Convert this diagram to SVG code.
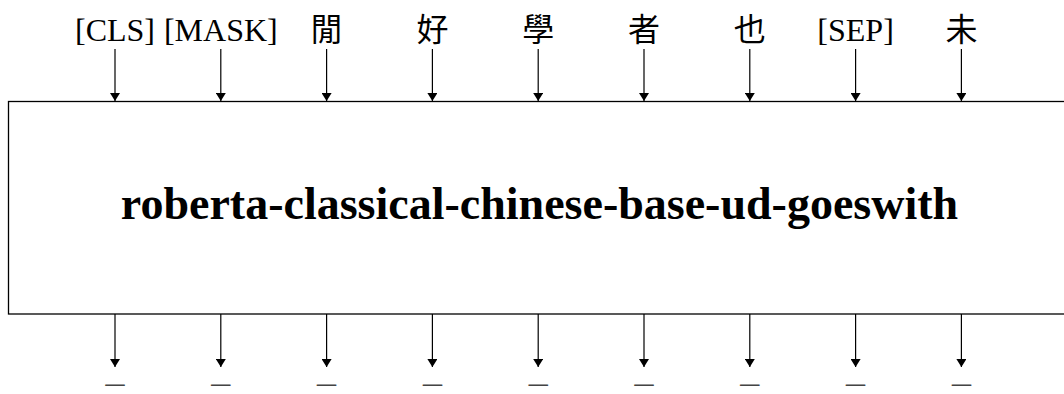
<svg xmlns="http://www.w3.org/2000/svg" width="1064" height="394" viewBox="0 0 1064 394">
  <style>
    .tok { font-family: "Liberation Serif", "Noto Sans CJK TC", serif; font-size: 32px; fill: #000; text-anchor: middle; }
    .out { font-family: "Liberation Serif", serif; font-size: 32px; fill: #444; text-anchor: middle; }
    .title { font-family: "Liberation Serif", serif; font-size: 46px; font-weight: bold; fill: #000; text-anchor: middle; }
    .box { fill: #fff; stroke: #000; stroke-width: 1.3; }
    .arrow { stroke: #000; stroke-width: 1.2; fill: none; marker-end: url(#head); }
  </style>
  <defs>
    <marker id="head" viewBox="0 0 8 10" refX="8" refY="5" markerWidth="8" markerHeight="10" markerUnits="userSpaceOnUse" orient="auto">
      <path d="M0,0 L8,5 L0,10 Z" fill="#000"/>
    </marker>
  </defs>
  <rect width="1064" height="394" fill="#fff"/>

  <!-- model block -->
  <g id="model">
    <rect class="box" x="8.5" y="101.5" width="1070" height="212.5"/>
    <text class="title" x="539.5" y="219">roberta-classical-chinese-base-ud-goeswith</text>
  </g>

  <!-- input tokens -->
  <g id="in-0"><text class="tok" x="115" y="41">[CLS]</text></g>
  <g id="in-1"><text class="tok" x="220.8" y="41">[MASK]</text></g>
  <g id="in-2"><text class="tok" x="326.6" y="41">閒</text></g>
  <g id="in-3"><text class="tok" x="432.4" y="41">好</text></g>
  <g id="in-4"><text class="tok" x="538.2" y="41">學</text></g>
  <g id="in-5"><text class="tok" x="644" y="41">者</text></g>
  <g id="in-6"><text class="tok" x="749.8" y="41">也</text></g>
  <g id="in-7"><text class="tok" x="855.6" y="41">[SEP]</text></g>
  <g id="in-8"><text class="tok" x="961.4" y="41">未</text></g>

  <!-- output labels -->
  <g id="out-0"><text class="out" x="115" y="382" textLength="19" lengthAdjust="spacingAndGlyphs">_</text></g>
  <g id="out-1"><text class="out" x="220.8" y="382" textLength="19" lengthAdjust="spacingAndGlyphs">_</text></g>
  <g id="out-2"><text class="out" x="326.6" y="382" textLength="19" lengthAdjust="spacingAndGlyphs">_</text></g>
  <g id="out-3"><text class="out" x="432.4" y="382" textLength="19" lengthAdjust="spacingAndGlyphs">_</text></g>
  <g id="out-4"><text class="out" x="538.2" y="382" textLength="19" lengthAdjust="spacingAndGlyphs">_</text></g>
  <g id="out-5"><text class="out" x="644" y="382" textLength="19" lengthAdjust="spacingAndGlyphs">_</text></g>
  <g id="out-6"><text class="out" x="749.8" y="382" textLength="19" lengthAdjust="spacingAndGlyphs">_</text></g>
  <g id="out-7"><text class="out" x="855.6" y="382" textLength="19" lengthAdjust="spacingAndGlyphs">_</text></g>
  <g id="out-8"><text class="out" x="961.4" y="382" textLength="19" lengthAdjust="spacingAndGlyphs">_</text></g>

  <!-- connectors: tokens into the model, model out to labels -->
  <g id="connectors">
    <line class="arrow" x1="115" y1="49" x2="115" y2="101"/>
    <line class="arrow" x1="220.8" y1="49" x2="220.8" y2="101"/>
    <line class="arrow" x1="326.6" y1="49" x2="326.6" y2="101"/>
    <line class="arrow" x1="432.4" y1="49" x2="432.4" y2="101"/>
    <line class="arrow" x1="538.2" y1="49" x2="538.2" y2="101"/>
    <line class="arrow" x1="644" y1="49" x2="644" y2="101"/>
    <line class="arrow" x1="749.8" y1="49" x2="749.8" y2="101"/>
    <line class="arrow" x1="855.6" y1="49" x2="855.6" y2="101"/>
    <line class="arrow" x1="961.4" y1="49" x2="961.4" y2="101"/>

    <line class="arrow" x1="115" y1="314" x2="115" y2="367"/>
    <line class="arrow" x1="220.8" y1="314" x2="220.8" y2="367"/>
    <line class="arrow" x1="326.6" y1="314" x2="326.6" y2="367"/>
    <line class="arrow" x1="432.4" y1="314" x2="432.4" y2="367"/>
    <line class="arrow" x1="538.2" y1="314" x2="538.2" y2="367"/>
    <line class="arrow" x1="644" y1="314" x2="644" y2="367"/>
    <line class="arrow" x1="749.8" y1="314" x2="749.8" y2="367"/>
    <line class="arrow" x1="855.6" y1="314" x2="855.6" y2="367"/>
    <line class="arrow" x1="961.4" y1="314" x2="961.4" y2="367"/>
  </g>
</svg>
